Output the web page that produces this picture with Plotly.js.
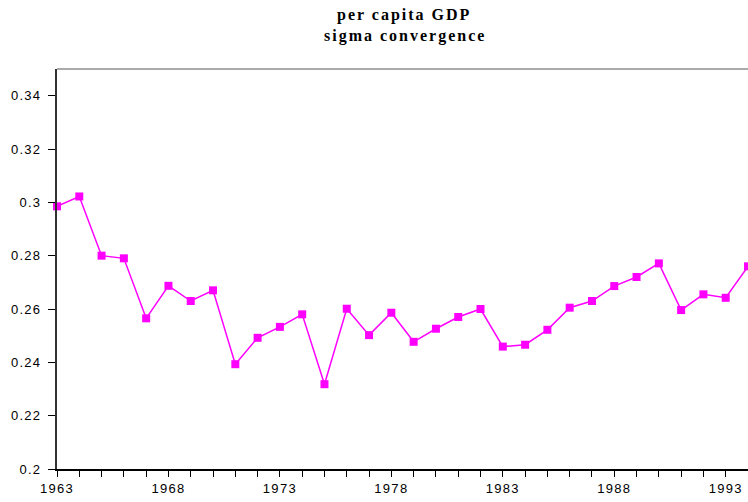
<!DOCTYPE html>
<html>
<head>
<meta charset="utf-8">
<script src="https://cdn.plot.ly/plotly-3.0.1.min.js"></script>
<style>
html,body{margin:0;padding:0;background:#fff;}
#chart{width:748px;height:502px;}
#chart .annotation-text{letter-spacing:2px;}
#chart .xtick text,#chart .ytick text{letter-spacing:1.3px;}
</style>
</head>
<body>
<div id="chart"></div>
<script>
const years = [1963,1964,1965,1966,1967,1968,1969,1970,1971,1972,1973,1974,1975,1976,1977,1978,
               1979,1980,1981,1982,1983,1984,1985,1986,1987,1988,1989,1990,1991,1992,1993,1994];
const sigma = [0.2985,0.3022,0.2800,0.2790,0.2565,0.2687,0.2630,0.2670,0.2393,0.2492,0.2533,0.2580,
               0.2318,0.2601,0.2502,0.2586,0.2477,0.2526,0.2570,0.2600,0.2459,0.2466,0.2522,0.2605,
               0.2630,0.2686,0.2720,0.2771,0.2596,0.2655,0.2642,0.2760];
const titleLines = ["per capita GDP", "sigma convergence"];

const trace = {
  x: years, y: sigma, type: 'scatter', mode: 'lines+markers',
  line: {color: '#FF00FF', width: 1.5},
  marker: {symbol: 'square', size: 8, color: '#FF00FF'},
  cliponaxis: false, showlegend: false
};

const titleFont = {family: 'Liberation Serif', size: 16, color: '#000', weight: 'bold'};
const layout = {
  width: 748, height: 502,
  margin: {l: 57, r: 0, t: 69, b: 33},
  paper_bgcolor: '#fff', plot_bgcolor: '#fff',
  annotations: [
    {text: '<b>' + titleLines[0] + '</b>', xref: 'paper', yref: 'paper', x: 0.503, y: 1.135,
     xanchor: 'center', yanchor: 'middle', showarrow: false, font: titleFont},
    {text: '<b>' + titleLines[1] + '</b>', xref: 'paper', yref: 'paper', x: 0.503, y: 1.083,
     xanchor: 'center', yanchor: 'middle', showarrow: false, font: titleFont}
  ],
  xaxis: {range: [1963, 1994], dtick: 5, tick0: 1963, ticks: 'outside', ticklen: 6,
          tickcolor: '#000', showgrid: false, zeroline: false,
          showline: true, linecolor: '#000', linewidth: 2,
          minor: {dtick: 1, tick0: 1963, ticks: 'outside', ticklen: 6, tickcolor: '#000', showgrid: false},
          tickfont: {family: 'Liberation Sans', size: 13, color: '#000'}},
  yaxis: {range: [0.2, 0.35], dtick: 0.02, tick0: 0.2, ticks: 'outside', ticklen: 7,
          ticklabelstandoff: 4,
          tickcolor: '#000', showgrid: false, zeroline: false,
          showline: true, linecolor: '#333', linewidth: 2,
          tickfont: {family: 'Liberation Sans', size: 13, color: '#000'}},
  shapes: [{type: 'line', xref: 'paper', yref: 'paper', x0: 0, x1: 1, y0: 1, y1: 1,
            line: {color: '#aaa', width: 2}}]
};

Plotly.newPlot('chart', [trace], layout, {displayModeBar: false, staticPlot: true});
</script>
</body>
</html>
